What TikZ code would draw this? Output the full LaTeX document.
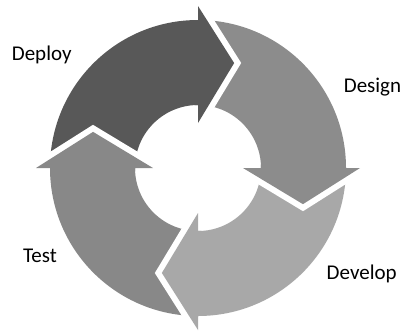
\documentclass[tikz,border=0pt]{standalone}
\usepackage{fontspec}
\setmainfont{Carlito}
\definecolor{deploycol}{RGB}{88,88,88}
\definecolor{designcol}{RGB}{140,140,140}
\definecolor{developcol}{RGB}{168,168,168}
\definecolor{testcol}{RGB}{136,136,136}
\begin{document}
\begin{tikzpicture}[x=1pt,y=1pt,
  lbl/.style={font=\fontsize{21}{25}\selectfont, anchor=base, inner sep=0pt, text=black},
  gapline/.style={draw=white, line width=12pt, line join=miter, miter limit=20}]
\useasboundingbox (0,0) rectangle (406,-335);
\fill[white] (0,0) rectangle (406,-335);
\begin{scope}[shift={(198,-168)}]
  % ring bodies
  \fill[deploycol] (180:148) arc[start angle=180,end angle=90,radius=148] -- (90:63) arc[start angle=90,end angle=180,radius=63] -- cycle;
  \fill[designcol] (90:148) arc[start angle=90,end angle=0,radius=148] -- (0:63) arc[start angle=0,end angle=90,radius=63] -- cycle;
  \fill[developcol] (0:148) arc[start angle=0,end angle=-90,radius=148] -- (-90:63) arc[start angle=-90,end angle=0,radius=63] -- cycle;
  \fill[testcol] (-90:148) arc[start angle=-90,end angle=-180,radius=148] -- (-180:63) arc[start angle=-180,end angle=-90,radius=63] -- cycle;
  % arrow heads with a white gap around them (each head reaches 3 degrees back into its own body)
  \foreach \a/\b/\t/\c in {90/93/71/deploycol, 0/3/-19/designcol, -90/-87/-109/developcol, 180/183/161/testcol}{
    \draw[gapline] (\a:162) -- (\t:111) -- (\a:45);
    \fill[\c] (\a:162) -- (\t:111) -- (\a:45) -- (\a:63)
      arc[start angle=\a, end angle=\b, radius=63] -- (\b:148)
      arc[start angle=\b, end angle=\a, radius=148] -- cycle;
  }
\end{scope}
\node[lbl] (deploy) at (41.7,-60.7) {Deploy};
\node[lbl] (design) at (372.5,-92.3) {Design};
\node[lbl] (test) at (40,-262.3) {Test};
\node[lbl] (develop) at (361.7,-279) {Develop};
\end{tikzpicture}
\end{document}
